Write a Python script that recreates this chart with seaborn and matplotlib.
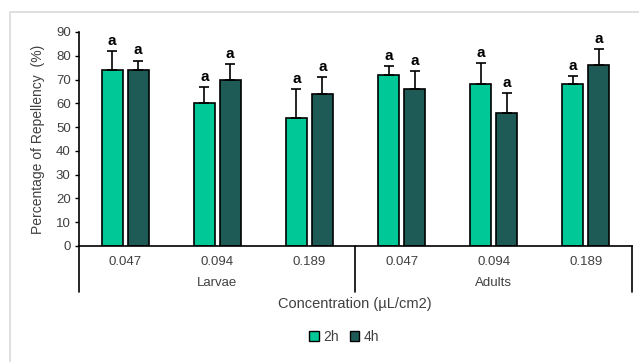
import seaborn as sns
import matplotlib.pyplot as plt
import pandas as pd
from matplotlib.lines import Line2D
from matplotlib.patches import Rectangle

# data
stages = ['Larvae', 'Larvae', 'Larvae', 'Adults', 'Adults', 'Adults']
concs = ['0.047', '0.094', '0.189', '0.047', '0.094', '0.189']
times = ['2h', '4h']
mean_2h = [74, 60, 54, 72, 68, 68]
mean_4h = [74, 70, 64, 66, 56, 76]
err_2h = [8, 7, 12, 3.5, 9, 3.5]
err_4h = [4, 6.5, 7, 7.5, 8.5, 7]
letters_2h = ['a'] * 6
letters_4h = ['a'] * 6

keys = [s + ' ' + c for s, c in zip(stages, concs)]
df = pd.DataFrame({
    'key': keys * 2,
    'time': ['2h'] * 6 + ['4h'] * 6,
    'value': mean_2h + mean_4h,
})

sns.set_style('white')
plt.rcParams['font.family'] = ['Liberation Sans', 'DejaVu Sans']
txt = '#404040'

fig = plt.figure(figsize=(6.39, 3.62), dpi=100)
ax = fig.add_axes([79 / 639, 1 - 246 / 362, (632 - 79) / 639, (246 - 32) / 362])

pal = {'2h': '#00C896', '4h': '#1E5B57'}
sns.barplot(data=df, x='key', y='value', hue='time', order=keys, hue_order=times,
            palette=pal, width=0.564, gap=0.19, edgecolor='black', linewidth=1.2,
            errorbar=None, saturation=1, legend=False, ax=ax)

# one-sided error bars and letters
errs = {'2h': err_2h, '4h': err_4h}
lets = {'2h': letters_2h, '4h': letters_4h}
for cont, t in zip(ax.containers, times):
    for i, bar in enumerate(cont):
        xc = bar.get_x() + bar.get_width() / 2
        h = bar.get_height()
        e = errs[t][i]
        ax.errorbar(xc, h, yerr=[[0], [e]], fmt='none', ecolor='black',
                    elinewidth=1.2, capsize=3.5, capthick=1.2, clip_on=False, zorder=3)
        ax.text(xc, h + e + 1.3, lets[t][i], ha='center', va='bottom',
                fontsize=11, fontweight='bold', color='black', clip_on=False)

ax.set_ylim(0, 90)
ax.set_xlim(-0.5, 5.5)
ax.set_yticks(range(0, 91, 10))
ax.tick_params(axis='y', left=True, length=3, width=1, color='black', labelsize=9.5,
               labelcolor=txt, pad=3)
ax.tick_params(axis='x', bottom=False, labelsize=9.5, labelcolor=txt, pad=4)
ax.set_xticks(range(6))
ax.set_xticklabels(concs)
ax.set_xlabel('')
ax.set_ylabel('Percentage of Repellency  (%)', fontsize=10, color=txt, labelpad=8)
sns.despine(ax=ax)
for s in ['left', 'bottom']:
    ax.spines[s].set_color('black')
    ax.spines[s].set_linewidth(1.2)

# group separators and group labels
tr = ax.get_xaxis_transform()
for xp in [-0.5, 2.5, 5.5]:
    ax.add_line(Line2D([xp, xp], [0, -46 / 214], transform=tr, color='black',
                       lw=1.2, clip_on=False))
for xp, name in [(1, 'Larvae'), (4, 'Adults')]:
    ax.text(xp, -37 / 214, name, transform=tr, ha='center', va='center',
            fontsize=9.5, color=txt)
fig.text(355 / 639, 1 - 304 / 362, 'Concentration (µL/cm2)', ha='center', va='center',
         fontsize=10.5, color=txt)

handles = [plt.Rectangle((0, 0), 1, 1, facecolor=pal[t], edgecolor='black', lw=1) for t in times]
fig.legend(handles, times, loc='center', bbox_to_anchor=(344 / 639, 1 - 337 / 362),
           ncol=2, frameon=False, fontsize=10, handlelength=0.7, handleheight=0.7,
           handletextpad=0.3, columnspacing=0.8, labelcolor=txt)

# light chart frame
fig.patches.append(Rectangle((10 / 639, -0.1), 1.2, 1 - 12 / 362 + 0.1, transform=fig.transFigure,
                             fill=False, edgecolor='#d9d9d9', lw=1.2))

fig.savefig('out.png', dpi=100)
